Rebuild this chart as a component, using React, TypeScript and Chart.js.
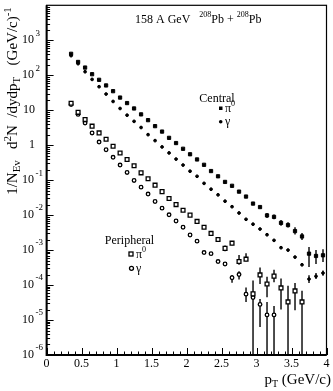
import React, { useEffect, useRef } from 'react';
import { Chart, registerables } from 'chart.js';

Chart.register(...registerables);

// pT bin centres (GeV/c)
const pt = [
  0.35, 0.45, 0.55, 0.65, 0.75, 0.85, 0.95, 1.05, 1.15, 1.25,
  1.35, 1.45, 1.55, 1.65, 1.75, 1.85, 1.95, 2.05, 2.15, 2.25,
  2.35, 2.45, 2.55, 2.65, 2.75, 2.85, 2.95, 3.05, 3.15, 3.25,
  3.35, 3.45, 3.55, 3.65, 3.75, 3.85, 3.95,
];

// Central collisions
const centralPi0 = [
  410, 240, 166, 107, 74, 51, 35, 23, 16, 11.2,
  7.6, 5.2, 3.5, 2.45, 1.62, 1.15, 0.79, 0.55, 0.39, 0.275,
  0.182, 0.129, 0.089, 0.069, 0.047, 0.034, 0.0214, 0.017, 0.0098, 0.0089,
  0.006, 0.0052, 0.0035, 0.00245, 0.00079, 0.00068, 0.00071,
];
const centralGamma = [
  363, 214, 126, 76, 47, 29, 17.8, 11.2, 7.2, 4.8,
  3.2, 2.0, 1.35, 0.89, 0.6, 0.4, 0.27, 0.18, 0.129, 0.081,
  0.055, 0.038, 0.025, 0.0174, 0.0115, 0.0076, 0.0055, 0.004, 0.00275, 0.0019,
  0.00117, 0.001, 0.00063, 0.00038, 0.000148, 0.000178, 0.00022,
];

// Peripheral collisions
const periphPi0 = [
  15.8, 8.7, 5.4, 3.5, 2.24, 1.48, 0.93, 0.6, 0.39, 0.257,
  0.162, 0.11, 0.072, 0.047, 0.03, 0.02, 0.0138, 0.01, 0.0066, 0.0045,
  0.003, 0.002, 0.00112, 0.00158, 0.00047, 0.00055, 5.6e-5, 1.95e-4, 1.07e-4, 1.8e-4,
  8.3e-5, 3.3e-5, 6.8e-5, 3.3e-5,
];
const periphGamma = [
  14.5, 7.6, 4.3, 2.24, 1.23, 0.74, 0.45, 0.27, 0.166, 0.098,
  0.063, 0.04, 0.0245, 0.0158, 0.0102, 0.0068, 0.0045, 0.0027, 0.0018, 0.00085,
  0.00079, 0.00047, 0.0004, 0.000162, 0.0002, 5.5e-5, 4.4e-5, 2.8e-5, 1.4e-5, 1.4e-5,
];

// Error bars: [pT, low, high]
const centralPi0Err = [
  [3.15, 0.0083, 0.0115], [3.25, 0.0076, 0.0105], [3.35, 0.005, 0.0072],
  [3.45, 0.0044, 0.0063], [3.55, 0.0028, 0.0045], [3.65, 0.00195, 0.0031],
  [3.75, 0.00033, 0.00123], [3.85, 0.0004, 0.001], [3.95, 0.00046, 0.00105],
];
const centralGammaErr = [
  [3.75, 0.000115, 0.00019], [3.85, 0.000148, 0.00022], [3.95, 0.000186, 0.00026],
];
const periphPi0Err = [
  [2.55, 0.00093, 0.00135], [2.65, 0.00138, 0.0018], [2.75, 0.00038, 0.00072],
  [2.85, 0.00048, 0.00081], [2.95, 1e-8, 0.000135], [3.05, 0.000107, 0.00032],
  [3.15, 4.5e-5, 1.74e-4], [3.25, 1.2e-4, 2.75e-4], [3.35, 2.0e-5, 1.55e-4],
  [3.45, 1e-8, 9.5e-5], [3.55, 1.9e-5, 1.15e-4], [3.65, 1e-8, 6.9e-5],
];
const periphGammaErr = [
  [2.65, 1.17e-4, 1.95e-4], [2.75, 1.45e-4, 2.5e-4], [2.85, 3.3e-5, 8.5e-5],
  [3.05, 6.3e-6, 4.0e-5], [3.15, 1e-8, 3.3e-5], [3.25, 1e-8, 2.5e-5],
];

const xTickLabels = ['0', '0.5', '1', '1.5', '2', '2.5', '3', '3.5', '4'];
const xTickValues = [0, 0.5, 1, 1.5, 2, 2.5, 3, 3.5, 4];
const yDecades = [-6, -5, -4, -3, -2, -1, 0, 1, 2, 3];

const FONT = "'Liberation Serif', 'DejaVu Serif', serif";

type Part = { t: string; s: number; dy?: number };

function richWidth(ctx: CanvasRenderingContext2D, parts: Part[]) {
  let w = 0;
  for (const p of parts) {
    ctx.font = `${p.s}px ${FONT}`;
    w += ctx.measureText(p.t).width;
  }
  return w;
}

function drawRich(ctx: CanvasRenderingContext2D, x: number, y: number, parts: Part[], align: 'left' | 'center' | 'right' = 'left') {
  const w = richWidth(ctx, parts);
  let cx = align === 'left' ? x : align === 'center' ? x - w / 2 : x - w;
  ctx.textAlign = 'left';
  for (const p of parts) {
    ctx.font = `${p.s}px ${FONT}`;
    ctx.fillText(p.t, cx, y + (p.dy || 0));
    cx += ctx.measureText(p.t).width;
  }
}

const decorPlugin = {
  id: 'decor',
  beforeDatasetsDraw(chart: any) {
    const { ctx, chartArea: a, scales } = chart;
    const xs = scales.x, ys = scales.y;
    ctx.save();
    ctx.beginPath();
    ctx.rect(a.left, a.top, a.right - a.left, a.bottom - a.top);
    ctx.clip();
    ctx.strokeStyle = '#000';
    ctx.lineWidth = 1.4;
    const all = [centralPi0Err, centralGammaErr, periphPi0Err, periphGammaErr];
    for (const list of all) {
      for (const [p, lo, hi] of list) {
        const x = xs.getPixelForValue(p);
        const y1 = Math.min(ys.getPixelForValue(lo), a.bottom + 5);
        const y2 = ys.getPixelForValue(hi);
        ctx.beginPath();
        ctx.moveTo(x, y1);
        ctx.lineTo(x, y2);
        ctx.stroke();
      }
    }
    ctx.restore();
  },
  afterDraw(chart: any) {
    const { ctx, chartArea: a, scales } = chart;
    const xs = scales.x, ys = scales.y;
    ctx.save();
    ctx.strokeStyle = '#000';
    ctx.fillStyle = '#000';

    // frame
    ctx.lineWidth = 1.2;
    ctx.strokeRect(a.left, a.top, a.right - a.left, a.bottom - a.top);
    ctx.lineWidth = 2;
    ctx.beginPath();
    ctx.moveTo(a.left, a.top);
    ctx.lineTo(a.left, a.bottom);
    ctx.lineTo(a.right, a.bottom);
    ctx.stroke();

    // y ticks (inward)
    ctx.lineWidth = 1;
    for (let d = -6; d <= 3; d++) {
      for (let k = 1; k <= 9; k++) {
        const v = k * Math.pow(10, d);
        const y = Math.round(ys.getPixelForValue(v)) + 0.5;
        const len = k === 1 ? 7 : 3.5;
        ctx.beginPath();
        ctx.moveTo(a.left, y);
        ctx.lineTo(a.left + len, y);
        ctx.stroke();
      }
    }
    // x ticks (inward)
    for (let i = 0; i <= 40; i++) {
      const v = i / 10;
      const x = Math.round(xs.getPixelForValue(v)) + 0.5;
      const len = i % 5 === 0 ? 7 : 3.5;
      ctx.beginPath();
      ctx.moveTo(x, a.bottom);
      ctx.lineTo(x, a.bottom - len);
      ctx.stroke();
    }

    // x tick labels
    ctx.textBaseline = 'middle';
    ctx.font = `12px ${FONT}`;
    ctx.textAlign = 'center';
    xTickValues.forEach((v, i) => {
      ctx.fillText(xTickLabels[i], xs.getPixelForValue(v), 364);
    });

    // y tick labels
    for (const d of yDecades) {
      const y = ys.getPixelForValue(Math.pow(10, d));
      ctx.textAlign = 'right';
      ctx.font = `12px ${FONT}`;
      if (d === 0) {
        ctx.fillText('1', 35, y);
      } else if (d === 1) {
        ctx.fillText('10', 35, y);
      } else {
        ctx.fillText('10', 34, y);
        ctx.textAlign = 'left';
        ctx.font = `9px ${FONT}`;
        ctx.fillText(d < 0 ? '-' + Math.abs(d) : String(d), 35.5, y - 7);
      }
    }

    // axis titles
    ctx.textBaseline = 'alphabetic';
    drawRich(ctx, 331, 384, [
      { t: 'p', s: 15 }, { t: 'T', s: 10, dy: 3 }, { t: ' (GeV/c)', s: 15 },
    ], 'right');

    ctx.save();
    ctx.translate(16.5, 101);
    ctx.rotate(-Math.PI / 2);
    drawRich(ctx, 0, 0, [
      { t: '1/N', s: 15 }, { t: 'Ev', s: 11, dy: 3 }, { t: '   d', s: 15 },
      { t: '2', s: 11, dy: -6 }, { t: 'N  /dydp', s: 15 }, { t: 'T', s: 11, dy: 3 },
      { t: '   (GeV/c)', s: 15 }, { t: '-1', s: 11, dy: -6 },
    ], 'center');
    ctx.restore();

    // header
    drawRich(ctx, 135, 23, [
      { t: '158 A GeV   ', s: 12 }, { t: '208', s: 8, dy: -6 }, { t: 'Pb + ', s: 12 },
      { t: '208', s: 8, dy: -6 }, { t: 'Pb', s: 12 },
    ]);

    // Central legend
    ctx.font = `12px ${FONT}`;
    ctx.textAlign = 'center';
    ctx.fillText('Central', 217, 102);
    ctx.fillRect(219, 106.5, 3.5, 3.5);
    drawRich(ctx, 225, 112, [{ t: 'π', s: 12 }, { t: '0', s: 8, dy: -6 }]);
    ctx.beginPath();
    ctx.arc(220.7, 121.7, 1.8, 0, Math.PI * 2);
    ctx.fill();
    drawRich(ctx, 225, 125, [{ t: 'γ', s: 12 }]);

    // Peripheral legend
    ctx.font = `12px ${FONT}`;
    ctx.textAlign = 'center';
    ctx.fillText('Peripheral', 129.5, 244);
    ctx.lineWidth = 1.3;
    ctx.strokeRect(129, 252, 4, 4);
    drawRich(ctx, 136, 258, [{ t: 'π', s: 12 }, { t: '0', s: 8, dy: -6 }]);
    ctx.beginPath();
    ctx.arc(131.5, 268.3, 2, 0, Math.PI * 2);
    ctx.stroke();
    drawRich(ctx, 136, 272, [{ t: 'γ', s: 12 }]);

    ctx.restore();
  },
};

export default function App() {
  const ref = useRef<HTMLCanvasElement>(null);
  useEffect(() => {
    document.body.style.margin = '0';
    const toXY = (vals: number[]) => vals.map((y, i) => ({ x: pt[i], y }));
    const chart = new Chart(ref.current!, {
      type: 'scatter',
      data: {
        datasets: [
          {
            label: 'Central π0', data: toXY(centralPi0), pointStyle: 'rect',
            radius: 2.3, borderWidth: 1, backgroundColor: '#000', borderColor: '#000',
          },
          {
            label: 'Central γ', data: toXY(centralGamma), pointStyle: 'circle',
            radius: 1.4, borderWidth: 1, backgroundColor: '#000', borderColor: '#000',
          },
          {
            label: 'Peripheral π0', data: toXY(periphPi0), pointStyle: 'rect',
            radius: 2.7, borderWidth: 1.3, backgroundColor: '#fff', borderColor: '#000',
          },
          {
            label: 'Peripheral γ', data: toXY(periphGamma), pointStyle: 'circle',
            radius: 1.8, borderWidth: 1.3, backgroundColor: '#fff', borderColor: '#000',
          },
        ],
      },
      options: {
        responsive: false,
        animation: false,
        events: [],
        layout: { padding: { top: 1.4, right: 6.5, left: 0, bottom: 0 } },
        plugins: { legend: { display: false }, tooltip: { enabled: false } },
        scales: {
          x: {
            type: 'linear', min: 0, max: 4,
            grid: { display: false }, border: { display: false },
            ticks: { display: false },
            afterFit: (s: any) => { s.height = 36; },
          },
          y: {
            type: 'logarithmic', min: 1e-6, max: 1e4,
            grid: { display: false }, border: { display: false },
            ticks: { display: false },
            afterFit: (s: any) => { s.width = 46.6; },
          },
        },
      },
      plugins: [decorPlugin],
    });
    return () => chart.destroy();
  }, []);
  return (
    <div style={{ position: 'absolute', left: 0, top: 0, width: 333, height: 391, background: '#fff' }}>
      <canvas ref={ref} width={333} height={391} style={{ width: 333, height: 391 }} />
    </div>
  );
}
